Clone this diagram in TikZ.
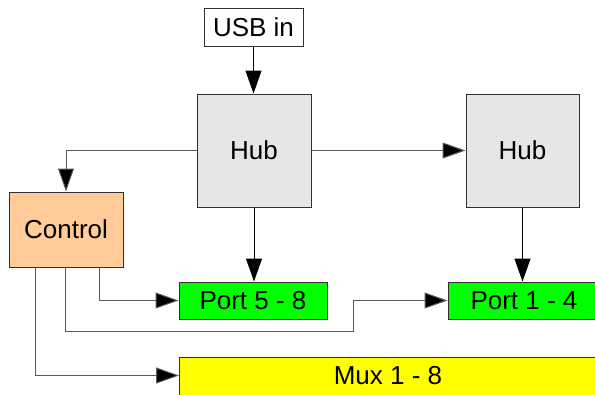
\documentclass[tikz,border=0pt]{standalone}
\usepackage{fontspec}
\setmainfont{Liberation Sans}
\usetikzlibrary{arrows.meta,calc}
\definecolor{hubgray}{HTML}{E6E6E6}
\definecolor{ctrlorange}{HTML}{FFCC99}
\definecolor{portgreen}{HTML}{00FF00}
\definecolor{muxyellow}{HTML}{FFFF00}
\definecolor{linegray}{HTML}{5A5A5A}
\definecolor{bordergray}{HTML}{303030}
\tikzset{
  blk/.style={draw=bordergray, line width=1pt, inner sep=0pt, font=\fontsize{26}{29}\selectfont},
  conn/.style={draw=linegray, line width=1pt, -{Triangle[length=23pt,width=16pt,fill=black]}},
  connb/.style={draw=black, line width=1pt, -{Triangle[length=23pt,width=16pt,fill=black]}}
}
\begin{document}
\begin{tikzpicture}[x=1pt,y=-1pt]
\useasboundingbox (0,0) rectangle (595,394);
\begin{scope}
\clip (0,0) rectangle (595,394);
\node[blk, fill=white, minimum width=99pt, minimum height=38pt] (usb) at (253.5,27) {USB in};
\node[blk, fill=hubgray, minimum width=114pt, minimum height=113pt] (hub1) at (254,150.5) {Hub};
\node[blk, fill=hubgray, minimum width=113pt, minimum height=113pt] (hub2) at (522.5,150.5) {Hub};
\node[blk, fill=ctrlorange, minimum width=114pt, minimum height=75pt] (ctrl) at (66,229.5) {Control};
\node[blk, fill=portgreen, minimum width=148pt, minimum height=37pt] (p58) at (253,300.5) {Port 5 - 8};
\node[blk, fill=portgreen, minimum width=152pt, minimum height=37pt] (p14) at (524,300.5) {Port 1 - 4};
\node[blk, fill=muxyellow, minimum width=420pt, minimum height=42pt, anchor=north west] (mux) at (179,357) {};
\node[font=\fontsize{26}{29}\selectfont, inner sep=0pt] (muxlabel) at (388,375.5) {Mux 1 - 8};
\end{scope}
\coordinate (c1) at ($(ctrl.south west)+(91,0)$);
\coordinate (c2) at ($(ctrl.south west)+(57,0)$);
\coordinate (c3) at ($(ctrl.south west)+(26.7,0)$);
\coordinate (bend1) at (c2 |- 0,331);
\coordinate (bend2) at (353.3,331);
\coordinate (muxin) at (mux.north west |- muxlabel.center);
\draw[connb] (usb.south) -- (usb.south |- hub1.north);
\draw[conn] (hub1.west) -| (ctrl.north);
\draw[conn] (hub1.east) -- (hub2.west);
\draw[connb] (hub1.south) -- (hub1.south |- p58.north);
\draw[connb] (hub2.south) -- (hub2.south |- p14.north);
\draw[conn] (c1) |- (p58.west);
\draw[conn] (c2) -- (bend1) -- (bend2) |- (p14.west);
\draw[conn] (c3) |- (muxin);
\end{tikzpicture}
\end{document}
